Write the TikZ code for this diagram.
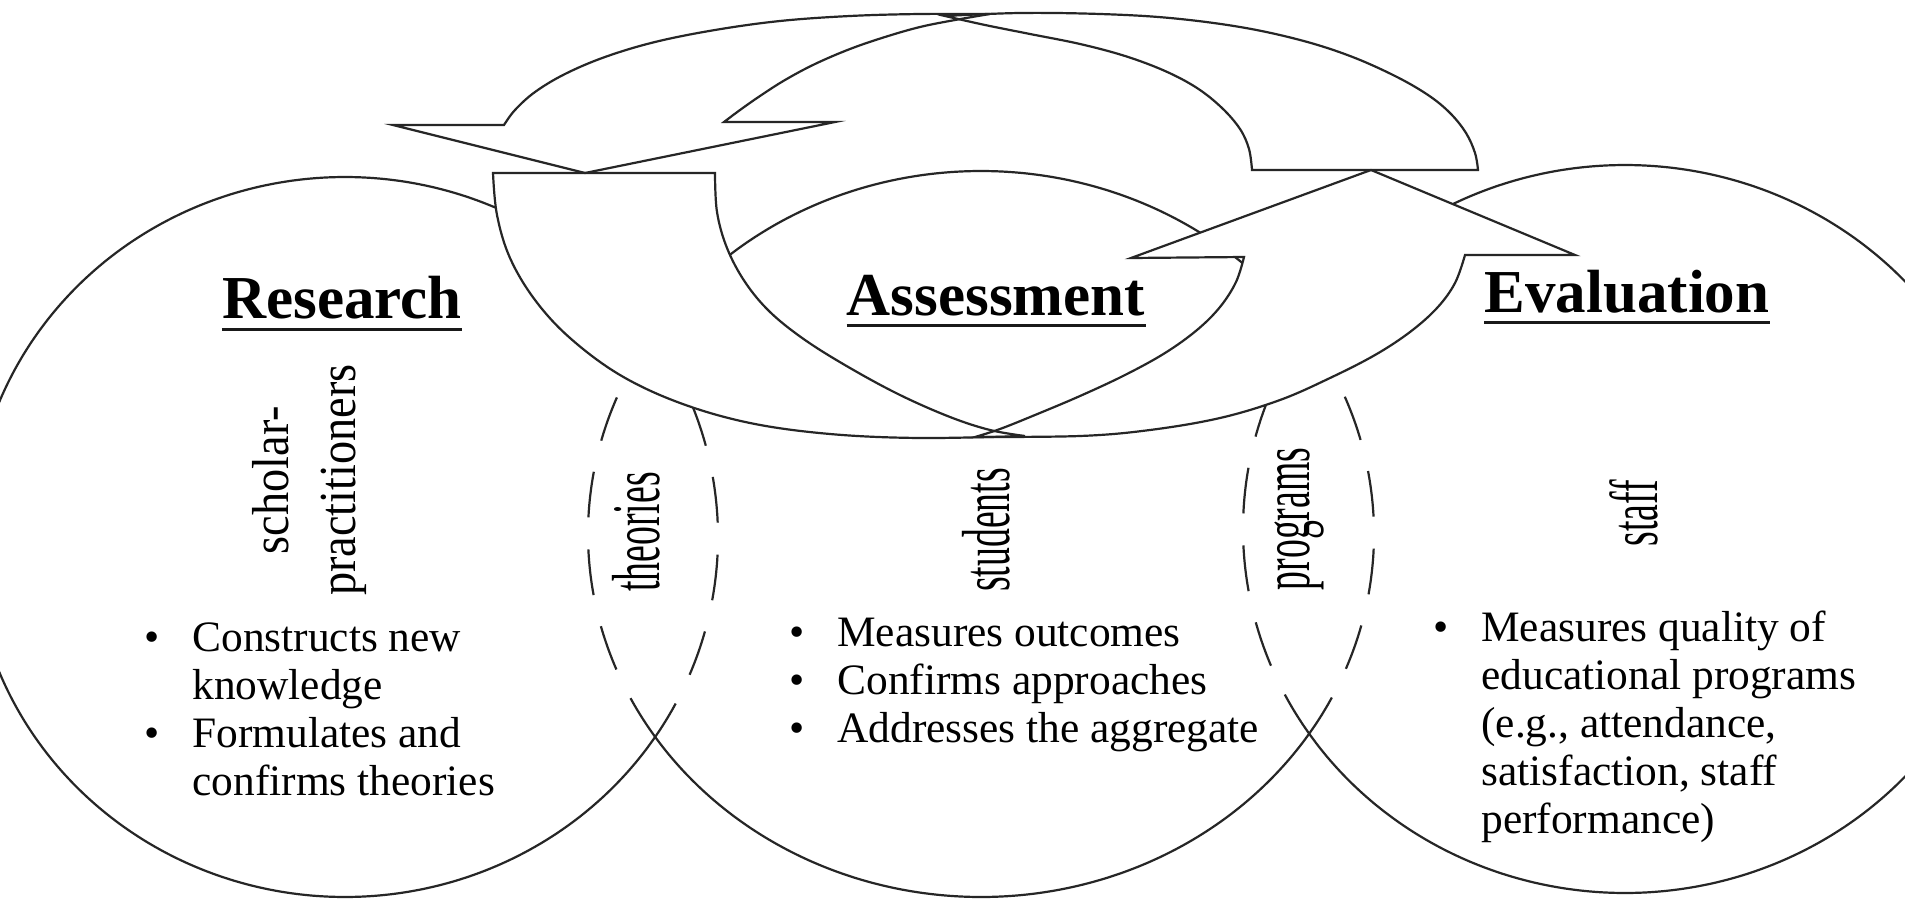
\documentclass[tikz,border=0pt]{standalone}
\usepackage{fontspec}
\setmainfont{Liberation Serif}
\usepackage{graphicx}
\newcommand{\mybul}{\makebox[24pt][l]{\textbullet}}
\begin{document}
\begin{tikzpicture}[x=0.5pt,y=-0.5pt,
  ringline/.style={line width=1.1pt, draw=black!85},
  lensdash/.style={line width=1.1pt, draw=black!85, dash pattern=on 23pt off 16pt},
  arrowline/.style={line width=1.1pt, draw=black!85, line join=miter},
  title/.style={font=\fontsize{30.5}{36}\selectfont\bfseries, inner sep=0pt, anchor=base},
  uline/.style={line width=1.5pt, black!90},
  bullets/.style={font=\fontsize{21.7}{24}\selectfont, inner sep=0pt, anchor=base west},
  vlabel/.style={rotate=90, inner sep=0pt, anchor=center}]
\path[use as bounding box] (0,0) rectangle (1905,899);
\fill[white] (0,0) rectangle (1905,899);
\begin{scope}
\clip (0,0) rectangle (1905,899);
% left ring (Research)
\draw[ringline] plot[domain=33.7:325.7, samples=120, smooth] ({345+373*cos(\x)},{537+360*sin(\x)});
\draw[lensdash] plot[domain=-34.3:33.7, samples=40, smooth] ({345+373*cos(\x)},{537+360*sin(\x)});
% middle ring (Assessment)
\draw[ringline] plot[domain=33.4:146.0, samples=80, smooth] ({981+393*cos(\x)},{534+363*sin(\x)});
\draw[ringline] plot[domain=213.4:325.7, samples=80, smooth] ({981+393*cos(\x)},{534+363*sin(\x)});
\draw[lensdash] plot[domain=146.0:213.4, samples=40, smooth] ({981+393*cos(\x)},{534+363*sin(\x)});
\draw[lensdash] plot[domain=-34.3:33.4, samples=40, smooth] ({981+393*cos(\x)},{534+363*sin(\x)});
% right ring (Evaluation)
\draw[ringline] plot[domain=213.3:505.8, samples=120, smooth] ({1625+382*cos(\x)},{529+364*sin(\x)});
\draw[lensdash] plot[domain=145.8:213.3, samples=40, smooth] ({1625+382*cos(\x)},{529+364*sin(\x)});

% upper curved arrow: tail part
\path[save path=\upTail] plot[smooth, tension=0.6] coordinates {(1478,170) (1475,153) (1466,133) (1450,113) (1428,95) (1395,76) (1350,56) (1300,40) (1240,27) (1170,18) (1100,14) (1020,13) (945,16)}
  -- plot[smooth, tension=0.6] coordinates {(945,16) (985,25) (1030,34) (1080,44) (1125,56) (1165,71) (1197,88) (1222,108) (1240,129) (1249,149) (1252,170)}
  -- cycle;
% upper curved arrow: head part
\path[save path=\upHead] plot[smooth, tension=0.6] coordinates {(504,125) (515,110) (535,92) (565,74) (605,57) (655,42) (715,30) (780,21) (850,16) (920,14) (990,14)}
  -- plot[smooth, tension=0.6] coordinates {(990,14) (955,20) (920,27) (885,37) (850,49) (815,64) (785,80) (760,96) (740,110) (724,122)}
  -- (835,122) -- (585,173) -- (393,125) -- cycle;
% lower curved arrow: tail part
\path[save path=\lowTail] (715,173) -- (493,173)
  -- plot[smooth, tension=0.6] coordinates {(493,173) (497,215) (510,258) (535,300) (570,338) (620,375) (680,403) (750,423) (830,434) (920,438) (1025,436)}
  -- plot[smooth, tension=0.6] coordinates {(1025,436) (990,430) (950,417) (900,395) (850,368) (805,340) (770,312) (745,282) (727,248) (717,212) (715,173)}
  -- cycle;
% lower curved arrow: head part
\path[save path=\lowHead] (1244,257) -- (1131,258) -- (1371,170) -- (1575,255) -- (1465,255)
  -- plot[smooth, tension=0.6] coordinates {(1465,255) (1455,283) (1437,308) (1410,332) (1375,355) (1330,378) (1280,400) (1220,418) (1150,430) (1080,436) (975,437)}
  -- plot[smooth, tension=0.6] coordinates {(975,437) (1000,429) (1035,415) (1080,396) (1125,375) (1165,353) (1197,330) (1220,307) (1236,282) (1244,257)}
  -- cycle;
\fill[white, use path=\upTail];
\fill[white, use path=\upHead];
\fill[white, use path=\lowTail];
\fill[white, use path=\lowHead];
\draw[arrowline, use path=\upTail];
\draw[arrowline, use path=\upHead];
\draw[arrowline, use path=\lowTail];
\draw[arrowline, use path=\lowHead];
\end{scope}

% titles
\node[title] (research) at (342,318) {Research};
\draw[uline] ([yshift=-5.5pt]research.base west) -- ([yshift=-5.5pt]research.base east);
\node[title] (assessment) at (996,315) {Assessment};
\draw[uline] ([yshift=-5pt]assessment.base west) -- ([yshift=-5pt]assessment.base east);
\node[title] (evaluation) at (1627,312) {Evaluation};
\draw[uline] ([yshift=-5pt]evaluation.base west) -- ([yshift=-5pt]evaluation.base east);

% vertical labels
\node[vlabel] (scholar) at (309,480) {\scalebox{0.89}[1]{\fontsize{26}{33.5}\selectfont\begin{tabular}{@{}c@{}}scholar-\\practitioners\end{tabular}}};
\node[vlabel] (theories) at (636,532) {\scalebox{0.555}[1]{\fontsize{34}{40}\selectfont theories}};
\node[vlabel] (students) at (986,530) {\scalebox{0.555}[1]{\fontsize{34}{40}\selectfont students}};
\node[vlabel] (programs) at (1299,519) {\scalebox{0.555}[1]{\fontsize{34}{40}\selectfont programs}};
\node[vlabel] (staff) at (1634,513) {\scalebox{0.555}[1]{\fontsize{34}{40}\selectfont staff}};

% bullet lists
\node[bullets] (resbul) at (144,651) {\begin{tabular}[t]{@{}l@{}l@{}}
\mybul & Constructs new\\
 & knowledge\\
\mybul & Formulates and\\
 & confirms theories
\end{tabular}};
\node[bullets] (assbul) at (789,646) {\begin{tabular}[t]{@{}l@{}l@{}}
\mybul & Measures outcomes\\
\mybul & Confirms approaches\\
\mybul & Addresses the aggregate
\end{tabular}};
\node[bullets] (evabul) at (1433,641) {\begin{tabular}[t]{@{}l@{}l@{}}
\mybul & Measures quality of\\
 & educational programs\\
 & (e.g., attendance,\\
 & satisfaction, staff\\
 & performance)
\end{tabular}};
\end{tikzpicture}
\end{document}
